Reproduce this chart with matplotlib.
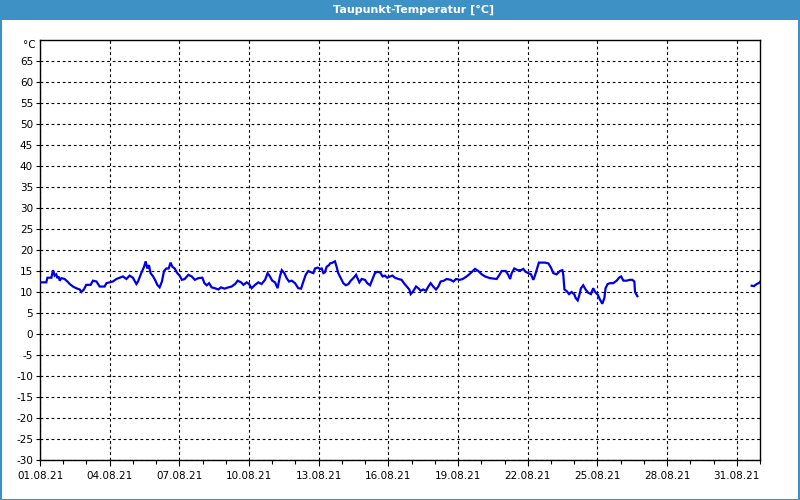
import numpy as np
import matplotlib
matplotlib.use("Agg")
import matplotlib.pyplot as plt
import matplotlib.dates as mdates
from matplotlib.patches import Rectangle
from datetime import datetime, timedelta

plt.rcParams["axes.unicode_minus"] = False

# ---- data: days since 01.08.2021 00:00 and dew point in °C ----
days_1 = [0.03, 0.27, 0.32, 0.49, 0.56, 0.63, 0.70, 0.75, 0.80, 0.85, 0.92, 1.06, 1.18, 1.28,
          1.42, 1.56, 1.71, 1.78, 1.89, 1.99, 2.18, 2.28, 2.43, 2.57, 2.78, 2.86, 3.00, 3.14,
          3.29, 3.43, 3.57, 3.72, 3.86, 4.00, 4.15, 4.22, 4.36, 4.48, 4.55, 4.62, 4.69, 4.76,
          4.87, 4.97, 5.05, 5.15, 5.25, 5.34, 5.44, 5.54, 5.62, 5.70, 5.80, 5.91, 6.01, 6.11,
          6.23]
vals_1 = [12.3, 12.3, 13.4, 13.4, 15.2, 13.9, 14.2, 13.3, 13.7, 12.7, 13.3, 13.1, 12.5, 11.9,
          11.3, 10.9, 10.6, 10.0, 10.6, 11.7, 11.7, 12.7, 12.5, 11.3, 11.3, 12.1, 12.3, 12.5,
          13.1, 13.4, 13.7, 13.1, 13.9, 13.4, 11.9, 12.5, 14.5, 16.0, 17.3, 15.6, 16.4, 14.5,
          13.7, 12.7, 11.7, 11.1, 12.5, 15.0, 15.6, 15.6, 17.0, 16.0, 15.6, 14.5, 13.9, 12.9,
          13.1]

days_2 = [6.39, 6.53, 6.67, 6.82, 6.99, 7.08, 7.18, 7.28, 7.39, 7.53, 7.68, 7.79, 7.94, 8.11,
          8.25, 8.40, 8.51, 8.66, 8.76, 8.90, 9.00, 9.11, 9.26, 9.40, 9.54, 9.69, 9.80, 9.90,
          10.00, 10.12, 10.23, 10.33, 10.41, 10.52, 10.62, 10.72, 10.84, 10.98, 11.12, 11.24,
          11.34, 11.44, 11.55, 11.67, 11.77, 11.84, 11.96, 12.06, 12.13, 12.20, 12.27, 12.34,
          12.44]
vals_2 = [14.1, 13.7, 12.9, 13.3, 13.4, 12.1, 11.6, 12.1, 11.1, 10.9, 10.6, 11.1, 10.8, 11.1,
          11.3, 11.9, 12.7, 12.3, 11.7, 12.3, 11.9, 10.9, 11.7, 12.3, 11.9, 12.9, 14.5, 13.7,
          12.7, 12.3, 10.9, 13.7, 15.2, 14.5, 13.3, 12.5, 12.7, 12.1, 10.9, 10.8, 12.5, 14.1,
          15.0, 14.7, 14.5, 15.6, 15.8, 15.5, 15.6, 14.5, 14.7, 16.0, 16.4]

days_3 = [12.49, 12.60, 12.70, 12.77, 12.84, 12.95, 13.06, 13.17, 13.28, 13.38, 13.49, 13.61,
          13.66, 13.75, 13.85, 13.99, 14.09, 14.21, 14.32, 14.42, 14.52, 14.64, 14.75, 14.85,
          14.95, 15.07, 15.18, 15.28, 15.43, 15.57, 15.67, 15.79, 15.90, 15.96, 16.07, 16.19,
          16.29, 16.39, 16.50, 16.62, 16.72, 16.82, 16.93, 17.05, 17.15, 17.25, 17.39, 17.51,
          17.68, 17.80, 17.91, 18.08, 18.20, 18.37, 18.48, 18.63]
vals_3 = [16.8, 17.0, 17.3, 16.0, 14.5, 13.3, 12.1, 11.6, 11.9, 12.7, 13.3, 14.1, 13.4, 12.3,
          13.1, 12.9, 12.1, 11.6, 13.1, 14.5, 14.8, 14.7, 13.7, 13.9, 13.4, 13.7, 13.9, 13.4,
          13.1, 12.9, 12.1, 11.3, 10.6, 9.5, 10.2, 11.3, 10.9, 10.3, 10.6, 10.3, 11.3, 12.1,
          11.3, 10.6, 11.3, 12.5, 12.7, 13.1, 12.9, 12.5, 13.1, 12.9, 13.1, 13.7, 14.2, 15.0]

days_4 = [18.73, 18.87, 19.02, 19.16, 19.37, 19.66, 19.76, 19.88, 20.05, 20.16, 20.24, 20.31,
          20.42, 20.57, 20.71, 20.81, 20.91, 21.02, 21.14, 21.24, 21.31, 21.38, 21.48, 21.74,
          21.89, 22.00, 22.10, 22.24, 22.39, 22.49, 22.53, 22.58, 22.68, 22.78, 22.89, 23.01,
          23.06, 23.15, 23.21, 23.29, 23.39, 23.49, 23.61, 23.72, 23.82, 23.90, 24.01, 24.11,
          24.21, 24.30, 24.35, 24.44, 24.54, 24.68, 24.83, 24.93, 25.02, 25.12, 25.26, 25.40,
          25.50, 25.59, 25.62, 25.72]
vals_4 = [15.5, 15.0, 14.2, 13.7, 13.3, 13.1, 13.9, 15.0, 15.0, 14.1, 13.1, 14.5,
          15.6, 15.2, 15.2, 15.5, 14.8, 14.5, 14.2, 12.9, 13.9, 15.2, 17.0, 17.0,
          16.8, 15.8, 14.5, 14.2, 15.0, 15.2, 14.1, 10.6, 10.2, 9.5, 10.0, 9.4,
          8.6, 8.0, 9.0, 10.9, 11.6, 10.6, 9.8, 9.5, 10.9, 10.0, 9.4, 8.2,
          7.2, 8.6, 10.9, 11.9, 12.1, 12.1, 12.7, 13.4, 13.7, 12.7, 12.7, 12.9,
          12.9, 12.5, 10.0, 9.0]

# second segment after the data gap
days_5 = [30.64, 30.74, 30.86, 30.97, 31.0]
vals_5 = [11.5, 11.4, 11.9, 12.2, 12.4]

title = "Taupunkt-Temperatur [°C]"
unit = "°C"
y_ticks = list(range(-30, 70, 5))
x_tick_days = [1, 4, 7, 10, 13, 16, 19, 22, 25, 28, 31]
start = datetime(2021, 8, 1)

# ---- figure ----
W, H, DPI = 800, 500, 100
fig = plt.figure(figsize=(W / DPI, H / DPI), dpi=DPI)
fig.patch.set_facecolor("white")
blue = "#3d91c5"

# title bar and frame
fig.patches.append(Rectangle((0, 1 - 20 / H), 1, 20 / H, transform=fig.transFigure,
                             facecolor=blue, edgecolor="none", zorder=0))
fig.patches.append(Rectangle((0.5 / W, 0.5 / H), 1 - 1.5 / W, 1 - 1.5 / H,
                             transform=fig.transFigure, facecolor="none",
                             edgecolor=blue, linewidth=1.5, zorder=1))
fig.text(414 / W, 1 - 10 / H, title, color="white", fontsize=8, fontweight="bold",
         ha="center", va="center", family="DejaVu Sans")

ax = fig.add_axes([40 / W, 40 / H, 720 / W, 420 / H])
ax.set_facecolor("white")

d_main = days_1 + days_2 + days_3 + days_4 + [np.nan] + days_5
v_main = vals_1 + vals_2 + vals_3 + vals_4 + [np.nan] + vals_5
t = [start + timedelta(days=float(d)) if not np.isnan(d) else start for d in d_main]
v = np.array(v_main, dtype=float)
ax.plot(t, v, color="#0000e6", linewidth=1.6, solid_joinstyle="miter", zorder=3,
        clip_on=True)

ax.set_xlim(start, start + timedelta(days=31))
ax.set_ylim(-30, 70)

ax.set_xticks([datetime(2021, 8, d) for d in x_tick_days])
ax.xaxis.set_minor_locator(mdates.DayLocator())
ax.xaxis.set_major_formatter(mdates.DateFormatter("%d.%m.%y"))
ax.set_yticks(y_ticks)

for s in ax.spines.values():
    s.set_color("black")
    s.set_linewidth(1.0)

ax.tick_params(axis="both", which="both", direction="out", colors="black",
               labelsize=7.5, width=0.8)
ax.tick_params(axis="x", which="major", length=4, pad=4)
ax.tick_params(axis="x", which="minor", length=3)
ax.tick_params(axis="y", which="major", length=3, pad=2)

ax.grid(True, which="major", color="black", linestyle=(0, (2.5, 2.5)), linewidth=0.8)

ax.text(-0.006, 68.9, unit, transform=ax.get_yaxis_transform(), ha="right", va="center",
        fontsize=7.5, color="black")

fig.savefig("out.png", dpi=DPI)
